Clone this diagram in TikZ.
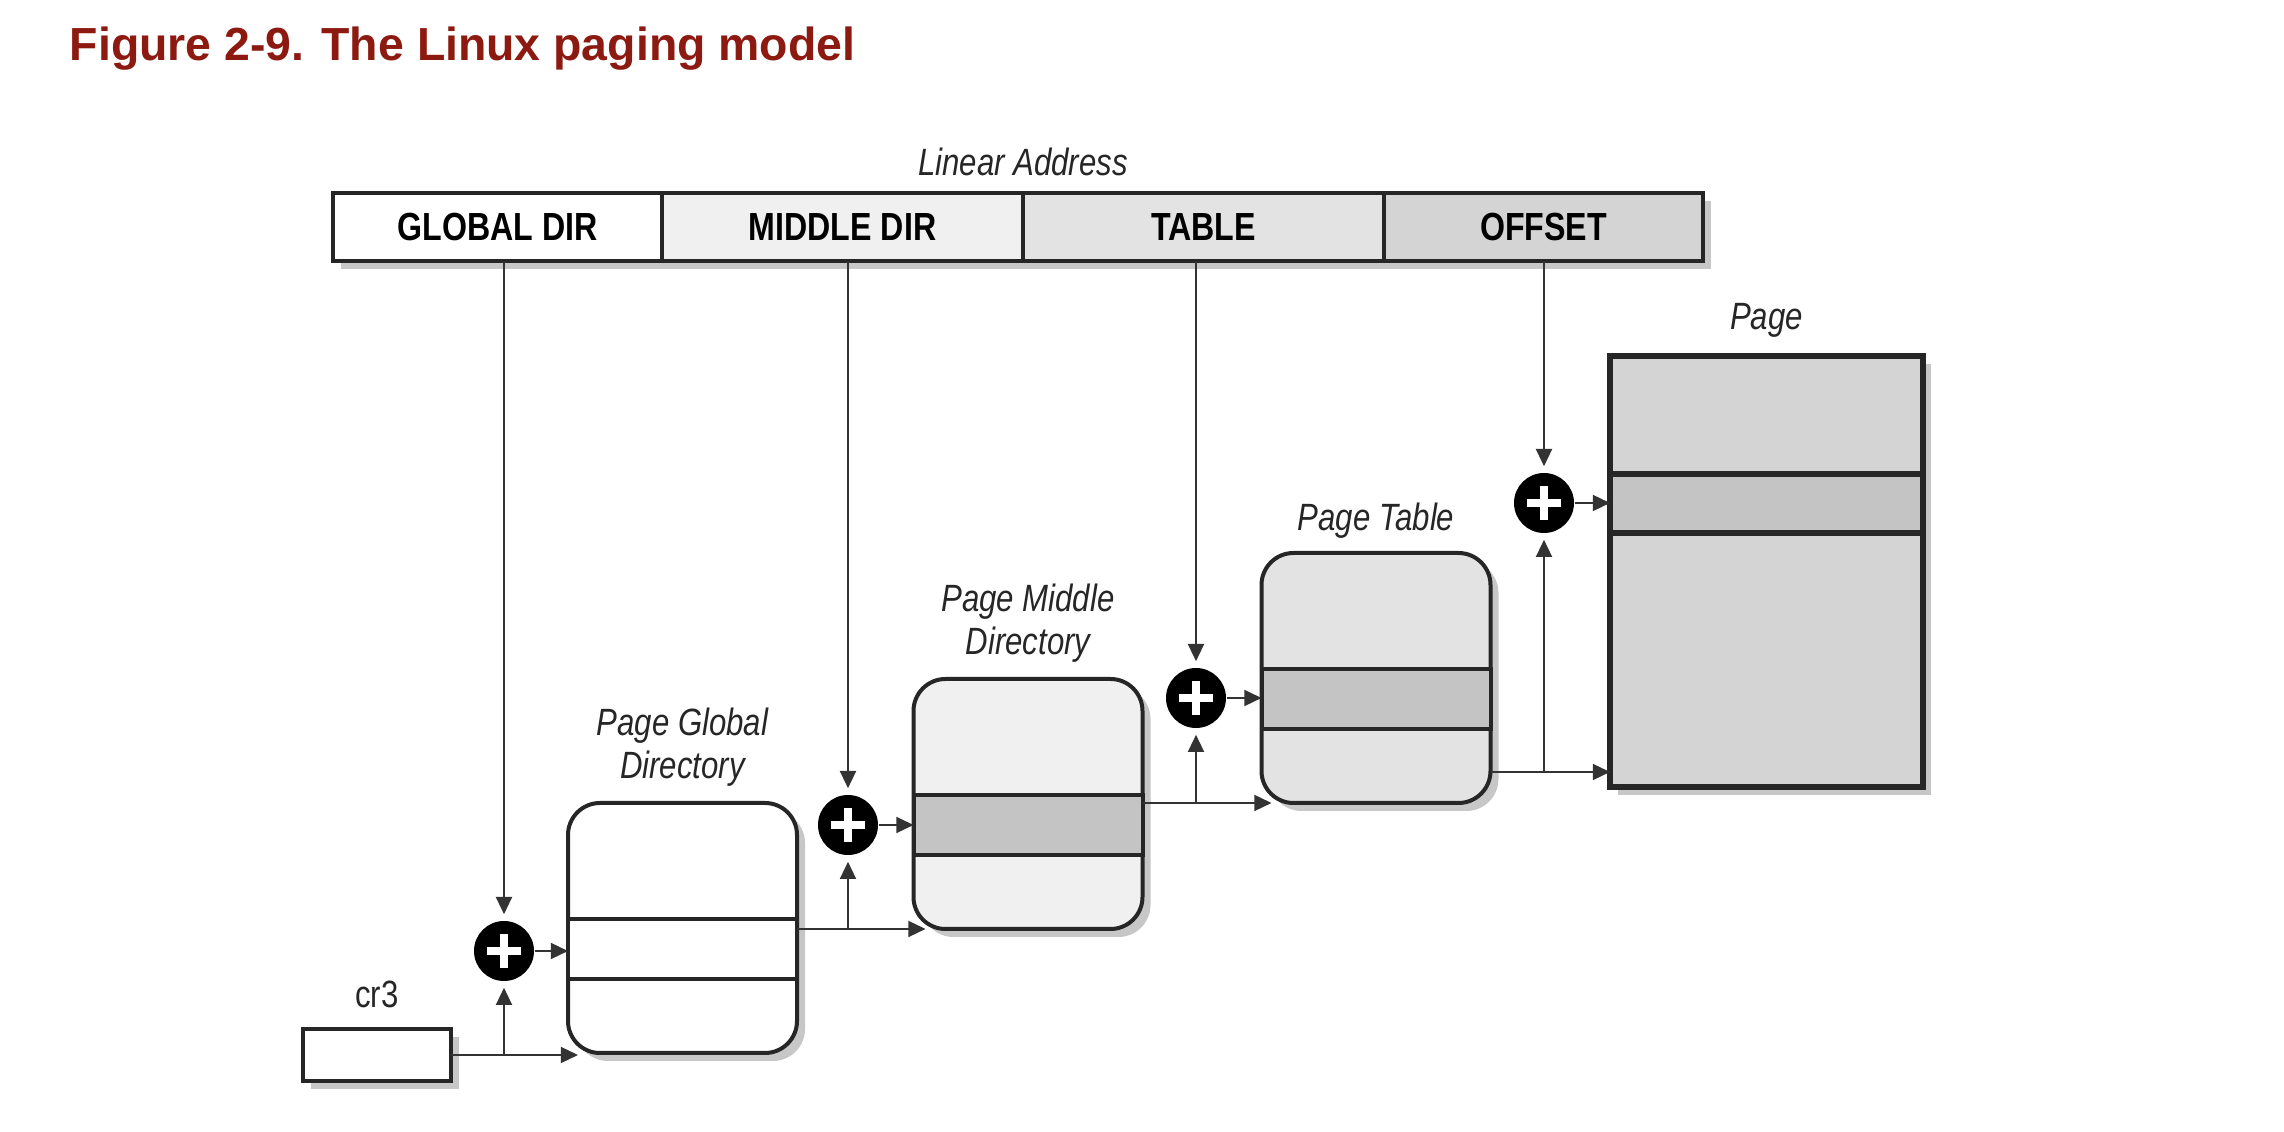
\documentclass[tikz,border=0pt]{standalone}
\usepackage{fontspec}
\setmainfont{Liberation Sans}
\newfontfamily\narrowfont[FakeStretch=0.82]{Liberation Sans}
\usetikzlibrary{arrows.meta,positioning,calc,shadows}
\definecolor{titlered}{RGB}{140,26,17}
\definecolor{grayA}{HTML}{F0F0F0}
\definecolor{grayB}{HTML}{E3E3E3}
\definecolor{grayC}{HTML}{D4D4D4}
\definecolor{slot}{HTML}{C4C4C4}

\begin{document}
\begin{tikzpicture}[x=0.25pt, y=-0.25pt,
    shade/.style={drop shadow={shadow xshift=2pt, shadow yshift=-2pt, fill=black, opacity=0.22}},
    field/.style={draw=black!85, line width=1pt, outer sep=0pt, inner sep=0pt,
      minimum height=17pt, shade, font=\narrowfont\bfseries\fontsize{9.8}{11}\selectfont},
    regbox/.style={draw=black!85, line width=1pt, outer sep=0pt, inner sep=0pt, fill=white,
      rounded corners=8pt, minimum width=57.25pt, minimum height=62.5pt, shade},
    regname/.style={inner sep=0pt, text=black!85, font=\narrowfont\fontsize{9.5}{11}\selectfont},
    tabname/.style={inner sep=0pt, align=center, text=black!85,
      font=\narrowfont\itshape\fontsize{9.5}{10.6}\selectfont},
    adder/.style={circle, fill=black, minimum size=15pt, inner sep=0pt,
      path picture={
        \draw[white, line width=2.1pt] ([xshift=-4.2pt]path picture bounding box.center) -- ([xshift=4.2pt]path picture bounding box.center);
        \draw[white, line width=2.1pt] ([yshift=-4.2pt]path picture bounding box.center) -- ([yshift=4.2pt]path picture bounding box.center);
      }},
    slotline/.style={draw=black!85, line width=1pt},
    arr/.style={draw=black!80, line width=0.5pt, -{Triangle[length=4.3pt, width=4pt]}},
  ]
    \useasboundingbox (0,0) rectangle (2284,1132);
    % Titulo
    \node[anchor=base west, inner sep=0pt, text=titlered,
      font=\bfseries\fontsize{11.6}{14}\selectfont] (title) at (69,61) {Figure 2-9. The Linux paging model};
    % Direccion lineal
    \node[field, fill=white, minimum width=82.25pt] (gdir) at (497.5,227) {GLOBAL DIR};
    \node[field, fill=grayA, minimum width=90.25pt, right=0pt of gdir] (mdir) {MIDDLE DIR};
    \node[field, fill=grayB, minimum width=90.25pt, right=0pt of mdir] (tbl) {TABLE};
    \node[field, fill=grayC, minimum width=79.75pt, right=0pt of tbl] (off) {OFFSET};
    \node[tabname, above=4pt of mdir.north east] (linaddr) {Linear Address};
    % Registro cr3
    \node[draw=black!85, line width=1pt, fill=white, outer sep=0pt,
      minimum width=37pt, minimum height=13pt, shade] (cr3) at (377,1055) {};
    \node[regname, above=5pt of cr3] (cr3name) {cr3};
    % Sumadores
    \node[adder] (plus1) at (504,951) {};
    \node[adder] (plus2) at (848,825) {};
    \node[adder] (plus3) at (1196,698) {};
    \node[adder] (plus4) at (1544,503) {};
    % Tablas
    \node[regbox] (pgd) at (682.5,928) {};
    \draw[slotline, fill=white] ([yshift=-29pt]pgd.north west) rectangle ([yshift=-44pt]pgd.north east);
    \node[regbox, fill=grayA] (pmd) at (1028,804) {};
    \draw[slotline, fill=slot] ([yshift=-29pt]pmd.north west) rectangle ([yshift=-44pt]pmd.north east);
    \node[regbox, fill=grayB] (pt) at (1376,678) {};
    \draw[slotline, fill=slot] ([yshift=-29pt]pt.north west) rectangle ([yshift=-44pt]pt.north east);
    \node[regbox, fill=grayC, sharp corners, line width=1.3pt,
      minimum width=78.25pt, minimum height=107.75pt] (page) at (1766.5,571.5) {};
    \draw[slotline, line width=1.3pt, fill=slot] ([yshift=-29.5pt]page.north west) rectangle ([yshift=-44.25pt]page.north east);
    \node[tabname, above=4pt of pgd] (pgdname) {Page Global\\Directory};
    \node[tabname, above=4pt of pmd] (pmdname) {Page Middle\\Directory};
    \node[tabname, above=3.5pt of pt] (ptname) {Page Table};
    \node[tabname, above=4.5pt of page] (pagename) {Page};
    % Indices de la direccion lineal
    \draw[arr, shorten >=1.5pt] (gdir.south -| plus1) -- (plus1);
    \draw[arr, shorten >=1.5pt] (mdir.south -| plus2) -- (plus2);
    \draw[arr, shorten >=1.5pt] (tbl.south -| plus3) -- (plus3);
    \draw[arr, shorten >=1.5pt] (off.south -| plus4) -- (plus4);
    % cr3 -> Page Global Directory
    \draw[arr] (cr3) -- ($(pgd.west |- cr3)+(10,0)$);
    \draw[arr, shorten >=1.5pt] (plus1 |- cr3) -- (plus1);
    \draw[arr] (plus1) -- (plus1 -| pgd.west);
    % Page Global Directory -> Page Middle Directory
    \draw[arr] (pgd.east |- pmd.south) -- ($(pmd.south west)+(12,0)$);
    \draw[arr, shorten >=1.5pt] (plus2 |- pmd.south) -- (plus2);
    \draw[arr] (plus2) -- (plus2 -| pmd.west);
    % Page Middle Directory -> Page Table
    \draw[arr] (pmd.east |- pt.south) -- ($(pt.south west)+(10,0)$);
    \draw[arr, shorten >=1.5pt] (plus3 |- pt.south) -- (plus3);
    \draw[arr] (plus3) -- (plus3 -| pt.west);
    % Page Table -> Page
    \coordinate (pagebase) at ($(page.south west)+(0,-15)$);
    \draw[arr] (pt.east |- pagebase) -- (pagebase);
    \draw[arr, shorten >=1.5pt] (plus4 |- pagebase) -- (plus4);
    \draw[arr] (plus4) -- (plus4 -| page.west);
\end{tikzpicture}
\end{document}
